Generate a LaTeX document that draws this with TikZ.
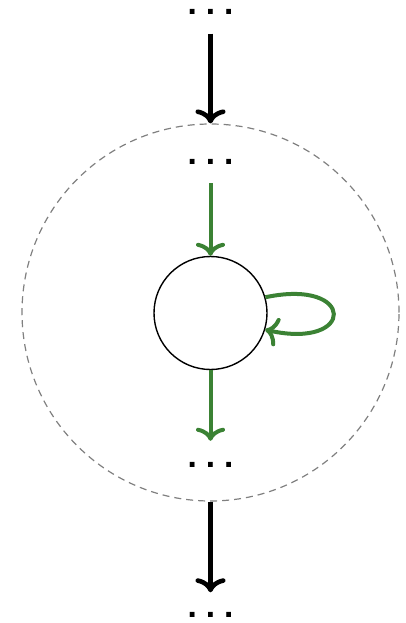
\documentclass[tikz,border=0pt]{standalone}
\usepackage{fontspec}
\newfontfamily\dotfont{DejaVu Sans}
\usetikzlibrary{arrows.meta}
\definecolor{loopgreen}{RGB}{59,130,52}
\tikzset{
  dotsnode/.style={inner sep=0pt, font=\dotfont\bfseries\fontsize{27}{27}\selectfont},
  blackarrow/.style={line width=4.6pt, -{To[length=14pt,width=30pt]}},
  greenarrow/.style={line width=4pt, draw=loopgreen, -{To[length=13pt,width=29pt]}},
  outerring/.style={circle, draw=gray, dash pattern=on 7pt off 5pt, line width=1.2pt, minimum size=377pt, inner sep=0pt},
  statenode/.style={circle, draw=black, line width=1.4pt, minimum size=113pt, inner sep=0pt}
}
\begin{document}
\begin{tikzpicture}[x=1pt,y=-1pt]
\useasboundingbox (0,0) rectangle (406,623);
\node[outerring] (outer) at (210.5,312.5) {};
\node[statenode] (c) at (210.5,313) {};
\node[dotsnode] (t1) at (210.5,12) {.\kern8pt.\kern8pt.};
\node[dotsnode] (t2) at (210.5,161.5) {.\kern8pt.\kern8pt.};
\node[dotsnode] (b2) at (210.5,464.5) {.\kern8pt.\kern8pt.};
\node[dotsnode] (b1) at (210.5,615) {.\kern8pt.\kern8pt.};
\draw[blackarrow, shorten <=19pt] (t1.south) -- (outer.north);
\draw[greenarrow, shorten <=19pt] (t2.south) -- (c.north);
\draw[greenarrow, shorten >=21pt] (c.south) -- (b2.north);
\draw[blackarrow, shorten >=20pt] (outer.south) -- (b1.north);
\draw[greenarrow] (c.16) .. controls (356,278) and (356,350) .. (c.-17);
\end{tikzpicture}
\end{document}
